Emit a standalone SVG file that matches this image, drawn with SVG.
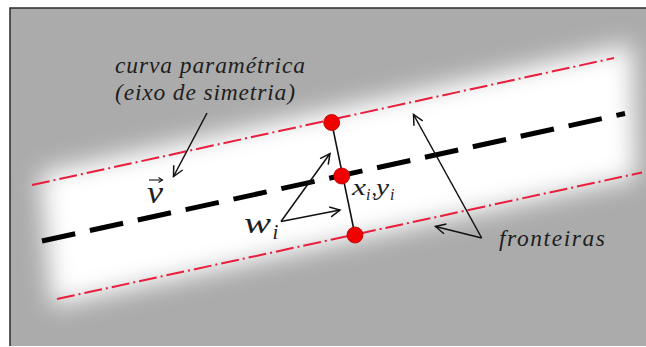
<svg xmlns="http://www.w3.org/2000/svg" width="646" height="347" viewBox="0 0 646 347">
<style>
.lbl{font-family:"Liberation Serif","DejaVu Serif",serif;font-style:italic;fill:#1e1e1e}
.bound{fill:none;stroke:#e81e3c;stroke-width:2;stroke-dasharray:18 4 2 4}
.axis{fill:none;stroke:#000;stroke-width:5;stroke-dasharray:34 15}
.arr{fill:none;stroke:#111;stroke-width:1.5;marker-end:url(#head)}
.dot{fill:#f00000;stroke:#b00000;stroke-width:0.8}
</style>
<defs>
<marker id="head" markerUnits="userSpaceOnUse" markerWidth="14" markerHeight="14" refX="11" refY="6" orient="auto" viewBox="0 0 14 12">
<path d="M1,1 L11,6 L1,11" fill="none" stroke="#111" stroke-width="1.5"/>
</marker>
<marker id="vhead" markerUnits="userSpaceOnUse" markerWidth="8" markerHeight="8" refX="5" refY="3" orient="auto" viewBox="0 0 8 6">
<path d="M1,0.5 L5,3 L1,5.5" fill="none" stroke="#111" stroke-width="1.1"/>
</marker>
<filter id="blur" x="-20%" y="-60%" width="140%" height="220%">
<feGaussianBlur stdDeviation="12"/>
</filter>
<clipPath id="frame"><rect x="10" y="8" width="636" height="338"/></clipPath>
</defs>
<rect x="0" y="0" width="646" height="347" fill="#ffffff"/>
<g id="background" clip-path="url(#frame)">
<rect x="10" y="8" width="636" height="338" fill="#ababab"/>
<polygon points="40,173 632,44 636,178 52,306" fill="#ffffff" filter="url(#blur)"/>
</g>
<path d="M10,346 V8 H646" fill="none" stroke="#2a2a2a" stroke-width="1.5"/>
<g id="boundaries">
<line class="bound" x1="32" y1="185" x2="614" y2="58"/>
<line class="bound" x1="57" y1="299" x2="642" y2="172.5"/>
</g>
<g id="axis">
<line class="axis" x1="42" y1="241" x2="625" y2="113.5"/>
</g>
<g id="connectors">
<line x1="331.7" y1="122.7" x2="355" y2="235" stroke="#111" stroke-width="1.6"/>
<line class="arr" x1="207" y1="113" x2="173.5" y2="176.5"/>
<line class="arr" x1="281" y1="221.5" x2="330" y2="153.5"/>
<line class="arr" x1="281" y1="221.5" x2="340" y2="210"/>
<line class="arr" x1="481.7" y1="238" x2="413.5" y2="114.5"/>
<line class="arr" x1="481.7" y1="238" x2="435.5" y2="226.5"/>
</g>
<g id="point-top"><circle class="dot" cx="331.7" cy="122.5" r="8"/></g>
<g id="point-center"><circle class="dot" cx="341.7" cy="176" r="8"/></g>
<g id="point-bottom"><circle class="dot" cx="355" cy="235" r="8"/></g>
<g id="label-curva">
<text class="lbl" x="115" y="73" font-size="23.5" textLength="190" lengthAdjust="spacing">curva paramétrica</text>
<text class="lbl" x="115" y="100" font-size="23.5" textLength="180" lengthAdjust="spacing">(eixo de simetria)</text>
</g>
<g id="label-v">
<text class="lbl" x="147" y="202.5" font-size="31" textLength="16" lengthAdjust="spacingAndGlyphs">v</text>
<line x1="149" y1="180" x2="162.5" y2="180" stroke="#111" stroke-width="1.1" marker-end="url(#vhead)"/>
</g>
<g id="label-w">
<text class="lbl" x="244" y="233" font-size="30" textLength="27" lengthAdjust="spacingAndGlyphs">w</text>
<text class="lbl" x="272.5" y="239" font-size="21">i</text>
</g>
<g id="label-xy">
<text class="lbl" x="352" y="195" font-size="24" textLength="14" lengthAdjust="spacingAndGlyphs">x</text>
<text class="lbl" x="366" y="199.5" font-size="16">i</text>
<text class="lbl" x="371.5" y="195" font-size="22">,</text>
<text class="lbl" x="376" y="195" font-size="24" textLength="13" lengthAdjust="spacingAndGlyphs">y</text>
<text class="lbl" x="390" y="199.5" font-size="16">i</text>
</g>
<g id="label-fronteiras">
<text class="lbl" x="499" y="246" font-size="23.5" textLength="106" lengthAdjust="spacing">fronteiras</text>
</g>
</svg>
